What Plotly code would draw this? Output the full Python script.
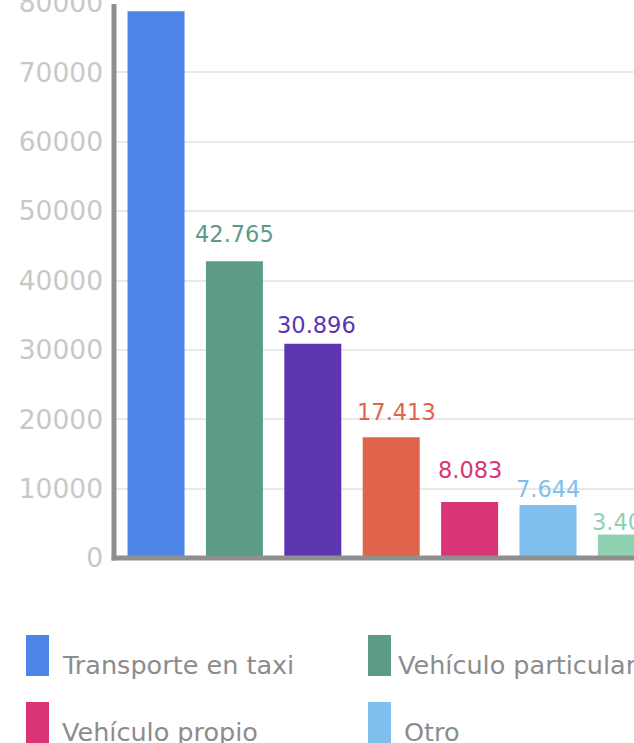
import plotly.graph_objects as go

# ---- data ----
categories = ["Transporte en taxi", "Vehículo particular", "Transporte público",
              "A pie", "Vehículo propio", "Otro", "Bicicleta"]
values = [78800, 42765, 30896, 17413, 8083, 7644, 3402]
value_labels = ["78.800", "42.765", "30.896", "17.413", "8.083", "7.644", "3.402"]
colors = ["#4d84e6", "#5c9c86", "#5d35b0", "#e0644c", "#d93476", "#80bfed", "#8fd2b1"]
y_ticks = [0, 10000, 20000, 30000, 40000, 50000, 60000, 70000, 80000]

# label offsets above each bar (pixels) – styling only
label_yshift = [28, 27.5, 18.7, 25.7, 31.5, 16, 12.7]
label_xshift = [0, 0, 4, 5, 0, 0, -2]

W, H = 634, 743
ML, MR, MT, MB = 114, 0, 3, 185
PW, PH = W - ML - MR, H - MT - MB
FONT = "DejaVu Sans"


def px_x(px):
    return (px - ML) / PW


def px_y(py):
    return (H - MB - py) / PH


fig = go.Figure()
fig.add_trace(go.Bar(
    x=list(range(len(categories))), y=values,
    marker=dict(color=colors, line=dict(width=0)),
    width=0.727, hoverinfo="skip", showlegend=False,
))

annotations = []
for i, (v, lab, c) in enumerate(zip(values, value_labels, colors)):
    annotations.append(dict(
        x=i, y=v, xref="x", yref="y", text=lab, showarrow=False,
        xanchor="center", yanchor="middle",
        yshift=label_yshift[i], xshift=label_xshift[i],
        font=dict(family=FONT, size=22.5, color=c),
    ))

shapes = [
    # axis lines
    dict(type="line", xref="paper", yref="paper", x0=0, x1=0, y0=-0.0045, y1=px_y(4),
         line=dict(color="#8f8f8f", width=5), layer="above"),
    dict(type="line", xref="paper", yref="paper", x0=-0.0045, x1=1, y0=0, y1=0,
         line=dict(color="#8f8f8f", width=5), layer="above"),
]

# custom legend: 4 items per row
col_px = [26, 368, 710, 1052]
row_top_px = [635, 702]
text_dx = [[34, 28, 30, 30], [34, 34, 30, 30]]
for i, (name, c) in enumerate(zip(categories, colors)):
    r, col = divmod(i, 4)
    x0 = col_px[col]
    y0 = row_top_px[r]
    shapes.append(dict(type="rect", xref="paper", yref="paper",
                       x0=px_x(x0), x1=px_x(x0 + 23), y0=px_y(y0 + 41), y1=px_y(y0),
                       fillcolor=c, line=dict(width=0), layer="above"))
    baseline = y0 + 39
    annotations.append(dict(
        x=px_x(x0 + text_dx[r][col]), y=px_y(baseline - 8.8), xref="paper", yref="paper",
        text=name, showarrow=False, xanchor="left", yanchor="middle",
        font=dict(family=FONT, size=25.5, color="#8c8c8c"),
    ))

fig.update_layout(
    width=W, height=H,
    margin=dict(l=ML, r=MR, t=MT, b=MB, pad=0, autoexpand=False),
    paper_bgcolor="white", plot_bgcolor="white",
    font=dict(family=FONT),
    bargap=0.27,
    showlegend=False,
    xaxis=dict(range=[-0.536, 6.097], showticklabels=False, showgrid=False,
               zeroline=False, showline=False, fixedrange=True, automargin=False),
    yaxis=dict(range=[0, 80000], tickvals=y_ticks, ticktext=[str(t) for t in y_ticks],
               showgrid=True, gridcolor="#e9e9e9", gridwidth=2,
               zeroline=False, showline=False, automargin=False,
               tickfont=dict(family=FONT, size=26.5, color="#c8c8c8"),
               ticklabelstandoff=10, ticklabeloverflow="allow", fixedrange=True),
    annotations=annotations,
    shapes=shapes,
)

fig.write_html(
    "out.html",
    config={"displayModeBar": False},
    post_script="document.body.style.margin='0';document.body.style.overflow='hidden';",
)
